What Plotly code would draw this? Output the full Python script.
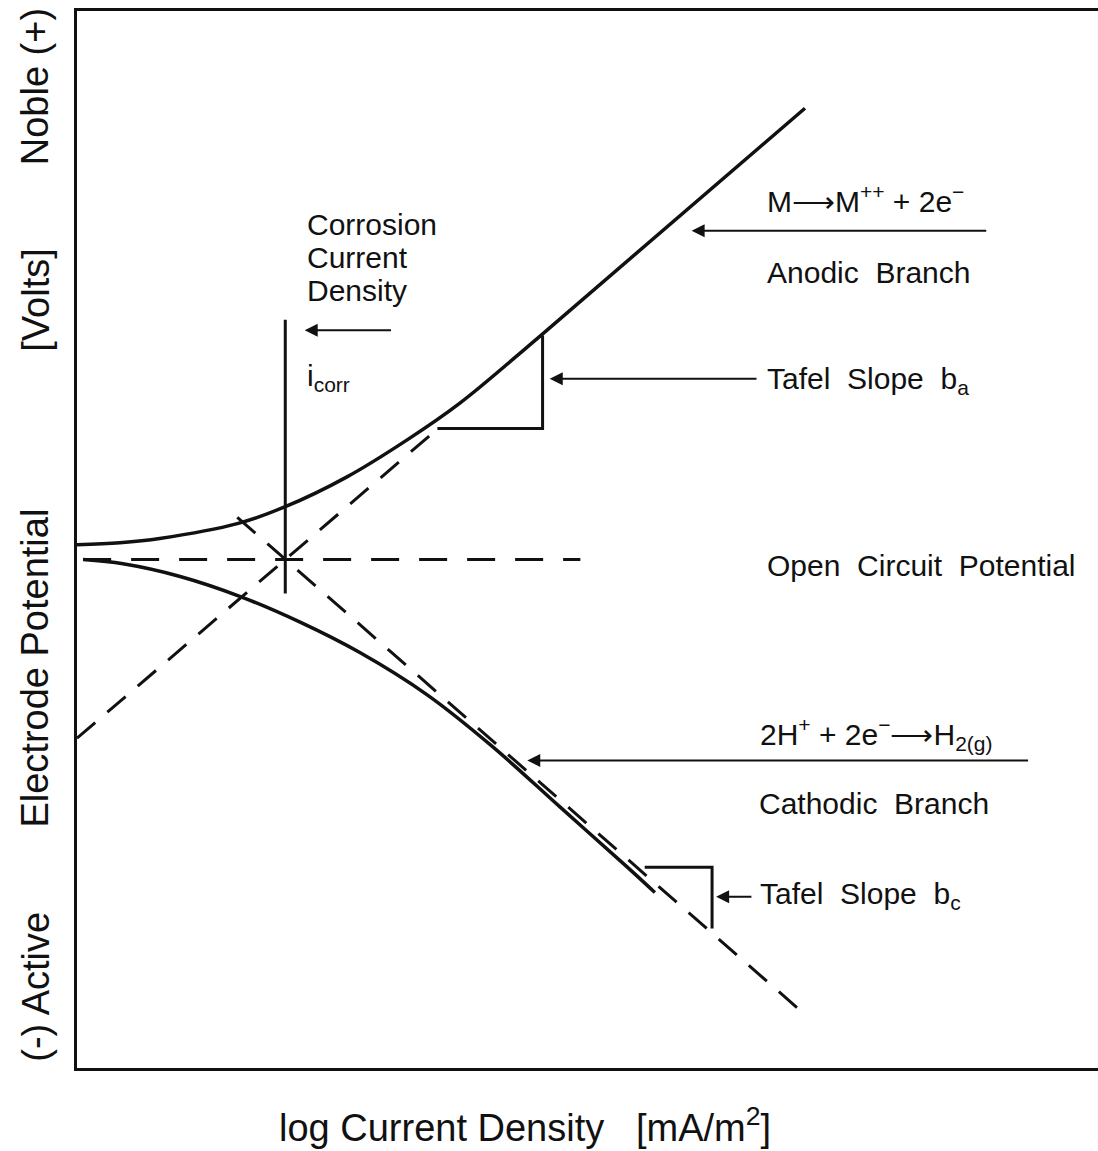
import plotly.graph_objects as go

# ---- data (arbitrary units: x = log current density, y = electrode potential) ----
anodic_x = [0.0, 0.42, 0.81, 1.57, 2.04, 2.64, 3.23, 3.75, 4.53, 7.13]
anodic_y = [4.95, 4.97, 5.01, 5.15, 5.31, 5.59, 5.94, 6.29, 6.92, 9.08]

cathodic_x = [0.06, 0.45, 1.01, 1.60, 2.18, 2.77, 3.43, 4.07, 4.73, 5.39, 5.66]
cathodic_y = [4.81, 4.77, 4.65, 4.46, 4.22, 3.93, 3.53, 3.04, 2.47, 1.90, 1.66]

anodic_tafel_x = [0.0, 3.56]
anodic_tafel_y = [3.12, 6.07]

cathodic_tafel_x = [1.57, 7.16]
cathodic_tafel_y = [5.21, 0.48]

ocp_x = [0.06, 4.93]
ocp_y = [4.81, 4.81]

icorr_x = [2.04, 2.04]
icorr_y = [7.08, 4.49]

tafel_a_x = [3.53, 4.56, 4.56]
tafel_a_y = [6.05, 6.05, 6.93]

tafel_c_x = [5.56, 6.22, 6.22]
tafel_c_y = [1.90, 1.90, 1.32]

FONT = "Liberation Sans, Arial, sans-serif"
BLACK = "#111111"

fig = go.Figure()

def add_line(x, y, dash="solid", width=3.5, shape="linear"):
    fig.add_trace(go.Scatter(x=x, y=y, mode="lines",
                             line=dict(color=BLACK, width=width, dash=dash, shape=shape),
                             hoverinfo="skip", showlegend=False))

DASH = "24px,16px"
add_line(anodic_tafel_x, anodic_tafel_y, dash=DASH, width=3)
add_line(cathodic_tafel_x, cathodic_tafel_y, dash=DASH, width=3)
add_line(ocp_x, ocp_y, dash="28px,20px", width=3)
add_line(anodic_x, anodic_y, width=3.5, shape="spline")
add_line(cathodic_x, cathodic_y, width=3.5, shape="spline")
add_line(icorr_x, icorr_y, width=3)
add_line(tafel_a_x, tafel_a_y, width=3)
add_line(tafel_c_x, tafel_c_y, width=3)

annotations = []

def label(x, y, text, size=30):
    annotations.append(dict(x=x, y=y, xref="x", yref="y", text=text, showarrow=False,
                            xanchor="left", yanchor="middle",
                            font=dict(family=FONT, size=size, color=BLACK)))

def arrow(x_tail, x_tip, y):
    annotations.append(dict(x=x_tip, y=y, ax=x_tail, ay=y, xref="x", yref="y",
                            axref="x", ayref="y", text="", showarrow=True,
                            arrowhead=2, arrowsize=1.3, arrowwidth=2, arrowcolor=BLACK))

label(2.23, 7.98, "Corrosion")
label(2.23, 7.67, "Current")
label(2.23, 7.36, "Density")
label(2.23, 6.53, "i<sub>corr</sub>")
arrow(3.09, 2.23, 6.98)

label(6.74, 8.22, "M\u27f6M<sup>++</sup> + 2e<sup>\u2212</sup>")
arrow(8.92, 6.02, 7.92)
label(6.74, 7.53, "Anodic  Branch")

label(6.74, 6.50, "Tafel  Slope  b<sub>a</sub>")
arrow(6.67, 4.63, 6.52)

label(6.74, 4.75, "Open  Circuit  Potential")

label(6.67, 3.16, "2H<sup>+</sup> + 2e<sup>\u2212</sup>\u27f6H<sub>2(g)</sub>")
arrow(9.33, 4.41, 2.91)
label(6.66, 2.50, "Cathodic  Branch")

label(6.67, 1.63, "Tafel  Slope  b<sub>c</sub>")
arrow(6.62, 6.26, 1.62)

# axis titles (paper coordinates, outside the plot area)
def ytitle(y, text):
    annotations.append(dict(x=-0.041, y=y, xref="paper", yref="paper", text=text,
                            showarrow=False, textangle=-90, xanchor="center",
                            yanchor="middle",
                            font=dict(family=FONT, size=38, color=BLACK)))

ytitle(0.928, "Noble (+)")
ytitle(0.727, "[Volts]")
ytitle(0.378, "Electrode Potential")
ytitle(0.077, "(-) Active")

annotations.append(dict(x=0.439, y=-0.054, xref="paper", yref="paper",
                        text="log Current Density   [mA/m<sup>2</sup>]", showarrow=False,
                        xanchor="center", yanchor="middle",
                        font=dict(family=FONT, size=38, color=BLACK)))

fig.update_layout(
    width=1098, height=1151,
    margin=dict(l=77, r=0, t=11, b=83),
    paper_bgcolor="white", plot_bgcolor="white",
    annotations=annotations,
    showlegend=False,
    xaxis=dict(range=[0, 10], showgrid=False, zeroline=False, showticklabels=False,
               ticks="", showline=True, linecolor=BLACK, linewidth=3, mirror=True),
    yaxis=dict(range=[0, 10], showgrid=False, zeroline=False, showticklabels=False,
               ticks="", showline=True, linecolor=BLACK, linewidth=3, mirror=False),
)

fig.write_html("out.html")
